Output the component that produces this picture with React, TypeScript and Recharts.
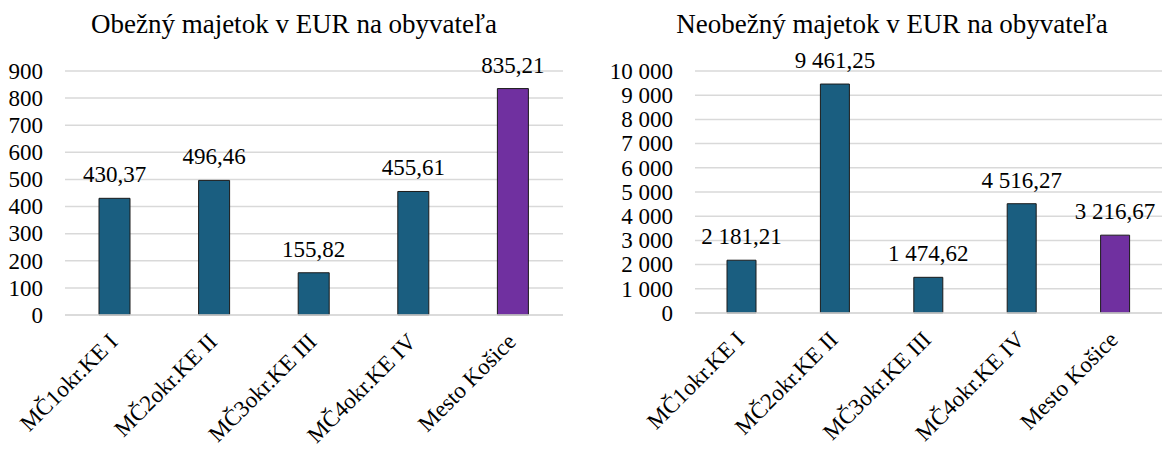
import { Bar, BarChart, CartesianGrid, Cell, LabelList, XAxis, YAxis } from 'recharts'

const categories = ['MČ1okr.KE I', 'MČ2okr.KE II', 'MČ3okr.KE III', 'MČ4okr.KE IV', 'Mesto Košice']
const obeznyValues = [430.37, 496.46, 155.82, 455.61, 835.21]
const neobeznyValues = [2181.21, 9461.25, 1474.62, 4516.27, 3216.67]
const obeznyTicks = [0, 100, 200, 300, 400, 500, 600, 700, 800, 900]
const neobeznyTicks = [0, 1000, 2000, 3000, 4000, 5000, 6000, 7000, 8000, 9000, 10000]

const FONT = "'Liberation Serif', 'Times New Roman', serif"
const BLUE = '#1a5e80'
const PURPLE = '#7030a0'
const GRID = '#d9d9d9'

const textStyle = { fontFamily: FONT, fontSize: 23, fill: '#000' }

// slovak number format: "9 461,25"
function groupThousands(s: string) {
  return s.replace(/\B(?=(\d{3})+(?!\d))/g, ' ')
}
const fmtValue = (v: number) => {
  const [int, dec] = v.toFixed(2).split('.')
  return `${groupThousands(int)},${dec}`
}
const fmtTick = (v: number) => groupThousands(String(v))

function XTick({ x, y, payload }: { x?: number; y?: number; payload?: { value: string } }) {
  const tx = (x ?? 0) + 4
  const ty = (y ?? 0) + 20
  return (
    <text x={tx} y={ty} textAnchor="end" transform={`rotate(-45 ${tx} ${ty})`} style={textStyle}>
      {payload?.value}
    </text>
  )
}

function YTick({ x, y, payload }: { x?: number; y?: number; payload?: { value: number } }) {
  return (
    <text x={x} y={y} dy="0.34em" textAnchor="end" style={textStyle}>
      {fmtTick(payload?.value ?? 0)}
    </text>
  )
}

function ValueLabel({ x, y, width, value }: { x?: number; y?: number; width?: number; value?: number }) {
  return (
    <text x={Number(x) + Number(width) / 2} y={Number(y) - 16} textAnchor="middle" style={textStyle}>
      {fmtValue(Number(value))}
    </text>
  )
}

interface PanelProps {
  values: number[]
  ticks: number[]
  width: number
  yWidth: number
  xHeight: number
  marginRight: number
  barSize: number
}

function Panel({ values, ticks, width, yWidth, xHeight, marginRight, barSize }: PanelProps) {
  const data = categories.map((name, i) => ({ name, value: values[i] }))
  const max = ticks[ticks.length - 1]
  return (
    <BarChart
      width={width}
      height={450}
      data={data}
      margin={{ top: 71, right: marginRight, bottom: 0, left: 0 }}
      barCategoryGap="0%"
      style={{ fontFamily: FONT }}
    >
      <CartesianGrid vertical={false} stroke={GRID} strokeWidth={1.5} />
      <XAxis
        dataKey="name"
        height={xHeight}
        interval={0}
        tickLine={false}
        axisLine={{ stroke: GRID, strokeWidth: 1.5 }}
        tick={<XTick />}
      />
      <YAxis
        width={yWidth}
        domain={[0, max]}
        ticks={ticks}
        interval={0}
        axisLine={false}
        tickLine={false}
        tickMargin={16}
        tick={<YTick />}
      />
      <Bar dataKey="value" barSize={barSize} stroke="#1a1a1a" strokeWidth={1} isAnimationActive={false}>
        {data.map((d, i) => (
          <Cell key={d.name} fill={i === data.length - 1 ? PURPLE : BLUE} />
        ))}
        <LabelList dataKey="value" content={<ValueLabel />} />
      </Bar>
    </BarChart>
  )
}

export default function App() {
  return (
    <div style={{ position: 'absolute', left: 0, top: 0, width: 1165, height: 450, background: '#fff', fontFamily: FONT }}>
      <div style={{ position: 'absolute', left: 0, top: 0 }}>
        <Panel values={obeznyValues} ticks={obeznyTicks} width={580} yWidth={65} xHeight={135} marginRight={17} barSize={31} />
      </div>
      <div style={{ position: 'absolute', left: 580, top: 0 }}>
        <Panel values={neobeznyValues} ticks={neobeznyTicks} width={585} yWidth={115} xHeight={137} marginRight={3} barSize={29} />
      </div>
      <svg width={1165} height={450} style={{ position: 'absolute', left: 0, top: 0, pointerEvents: 'none' }}>
        <text x={294} y={33} textAnchor="middle" style={{ ...textStyle, fontSize: 27 }}>
          Obežný majetok v EUR na obyvateľa
        </text>
        <text x={892} y={33} textAnchor="middle" style={{ ...textStyle, fontSize: 27 }}>
          Neobežný majetok v EUR na obyvateľa
        </text>
      </svg>
    </div>
  )
}
